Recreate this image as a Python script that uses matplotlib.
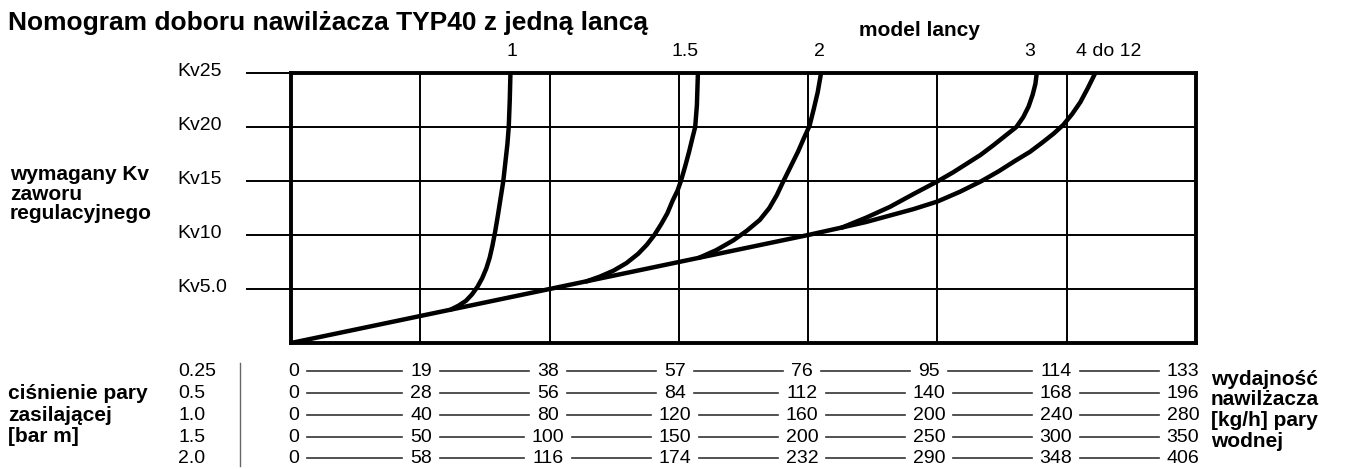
import matplotlib.pyplot as plt
import matplotlib.transforms as mtransforms
from matplotlib.lines import Line2D

plt.rcParams['font.family'] = ['Liberation Sans', 'DejaVu Sans']

W, H = 1345, 469
FS = 14        # regular text
FSB = 15       # bold labels

# y axis: Kv of the control valve
kv_ticks = [5, 10, 15, 20, 25]
kv_labels = ['Kv5.0', 'Kv10', 'Kv15', 'Kv20', 'Kv25']

# x axis: capacity at 0.25 bar (kg/h), one gridline per column
grid_kg = [0, 19, 38, 57, 76, 95, 114, 133]

# common straight part
base_kg = [0, 19, 38, 57, 76, 81]
base_kv = [0, 2.5, 5.0, 7.5, 10.0, 10.7]

# lance curves
lance_names = ['1', '1.5', '2', '3', '4 do 12']
lance_kg = [
    [23.5, 24.6, 25.7, 26.6, 27.4, 28.1, 28.7, 29.2, 29.6, 30.0, 30.4, 30.8,
     31.2, 31.5, 31.8, 32.0, 32.15, 32.25],
    [43.4, 45.4, 47.4, 49.3, 51.0, 52.3, 53.4, 54.4, 55.3, 56.1, 56.8, 57.3,
     57.9, 58.5, 59.0, 59.4, 59.65, 59.8],
    [60.0, 62.5, 65.0, 67.0, 68.9, 70.3, 71.4, 72.3, 73.4, 74.5, 75.4, 76.2,
     76.8, 77.4, 77.9],
    [81.0, 84.5, 88.0, 91.5, 95.1, 97.3, 99.3, 101.3, 103.2, 105.0, 106.6,
     107.6, 108.4, 109.0, 109.4, 109.6],
    [81.0, 84.5, 88.0, 91.5, 95.0, 98.3, 101.5, 104.0, 106.5, 108.6, 110.5,
     112.1, 113.5, 114.8, 116.0, 117.1, 118.2],
]
lance_kv = [
    [3.1, 3.45, 3.9, 4.5, 5.2, 6.0, 6.9, 7.9, 9.0, 10.3, 11.8, 13.4,
     15.0, 16.7, 18.4, 20.0, 22.5, 25.0],
    [5.7, 6.15, 6.7, 7.4, 8.25, 9.1, 10.0, 11.0, 12.0, 13.2, 14.1, 15.0,
     16.3, 17.7, 19.0, 20.0, 22.0, 25.0],
    [7.9, 8.6, 9.5, 10.4, 11.4, 12.5, 13.7, 14.9, 16.3, 17.7, 19.0, 20.1,
     21.6, 23.2, 25.0],
    [10.7, 11.6, 12.6, 13.8, 15.0, 15.8, 16.6, 17.4, 18.3, 19.2, 20.0,
     20.9, 21.9, 23.0, 24.0, 25.0],
    [10.7, 11.2, 11.8, 12.4, 13.1, 14.0, 15.0, 15.9, 16.9, 17.7, 18.6,
     19.4, 20.2, 21.2, 22.3, 23.6, 25.0],
]
lance_label_kg = [32.5, 57.9, 77.7, 108.6, 120.1]

# capacity table (kg/h) for each supply pressure
pressures = ['0.25', '0.5', '1.0', '1.5', '2.0']
capacity = [
    [0, 19, 38, 57, 76, 95, 114, 133],
    [0, 28, 56, 84, 112, 140, 168, 196],
    [0, 40, 80, 120, 160, 200, 240, 280],
    [0, 50, 100, 150, 200, 250, 300, 350],
    [0, 58, 116, 174, 232, 290, 348, 406],
]


def fx(px):
    return px / W


def fy(py):
    return 1 - py / H


fig = plt.figure(figsize=(W / 100, H / 100), dpi=100)
ax = fig.add_axes([fx(291), fy(343), (1196 - 291) / W, (343 - 73) / H])
ax.set_xlim(0, 133)
ax.set_ylim(0, 25)
ax.set_xticks([])
ax.set_yticks([])
for s in ax.spines.values():
    s.set_linewidth(2.8)
    s.set_zorder(5)

# grid
for k in grid_kg[1:-1]:
    ax.axvline(k, color='black', lw=1.4, zorder=1)
for kv in kv_ticks:
    ax.plot([-6.5, 133], [kv, kv], color='black', lw=1.4, clip_on=False, zorder=1)

# curves
ax.plot(base_kg, base_kv, color='black', lw=3.2, solid_capstyle='round', zorder=3)
for xs, ys in zip(lance_kg, lance_kv):
    ax.plot(xs, ys, color='black', lw=3.2, solid_capstyle='round',
            solid_joinstyle='round', zorder=3)

# labels around the plot
tr_y = mtransforms.blended_transform_factory(fig.transFigure, ax.transData)
for kv, lab in zip(kv_ticks, kv_labels):
    fig.text(fx(177), kv + 0.15, lab, transform=tr_y, fontsize=FS,
             ha='left', va='center')

tr_x = mtransforms.blended_transform_factory(ax.transData, fig.transFigure)
for k, name in zip(lance_label_kg, lance_names):
    ax.text(k, fy(52), name, transform=tr_x, fontsize=FS, ha='center', va='center')

fig.text(fx(8), fy(23), 'Nomogram doboru nawilżacza TYP40 z jedną lancą',
         fontsize=19, fontweight='bold', ha='left', va='center')
fig.text(fx(919), fy(30), 'model lancy', fontsize=FSB, fontweight='bold',
         ha='center', va='center')

for i, line in enumerate(['wymagany Kv', 'zaworu', 'regulacyjnego']):
    fig.text(fx(10), fy(175 + 19 * i), line, fontsize=FSB, fontweight='bold',
             ha='left', va='center')

# bottom table
row_py = [371, 393, 415, 437, 458]
for i, line in enumerate(['ciśnienie pary', 'zasilającej', '[bar m]']):
    fig.text(fx(8), fy(row_py[i + 1]), line, fontsize=FSB, fontweight='bold',
             ha='left', va='center')
for i, line in enumerate(['wydajność', 'nawilżacza', '[kg/h] pary', 'wodnej']):
    fig.text(fx(1211), fy(379 + 20.7 * i), line, fontsize=FSB, fontweight='bold',
             ha='left', va='center')

fig.add_artist(Line2D([fx(240), fx(240)], [fy(363), fy(466)], color='#666', lw=1.0))

renderer = fig.canvas.get_renderer()
for r, (p, vals) in enumerate(zip(pressures, capacity)):
    fig.text(fx(178), fy(row_py[r]), p, fontsize=FS, ha='left', va='center')
    texts = []
    for c, v in enumerate(vals):
        texts.append(fig.text(fx(294 + 127 * c), fy(row_py[r]), str(v),
                              fontsize=FS, ha='center', va='center'))
    boxes = [t.get_window_extent(renderer) for t in texts]
    for a, b in zip(boxes[:-1], boxes[1:]):
        x0, x1 = a.x1 + 8, b.x0 - 8
        fig.add_artist(Line2D([x0 / W, x1 / W], [fy(row_py[r]), fy(row_py[r])],
                              color='#333', lw=1.2))

fig.savefig('out.png', dpi=100)
